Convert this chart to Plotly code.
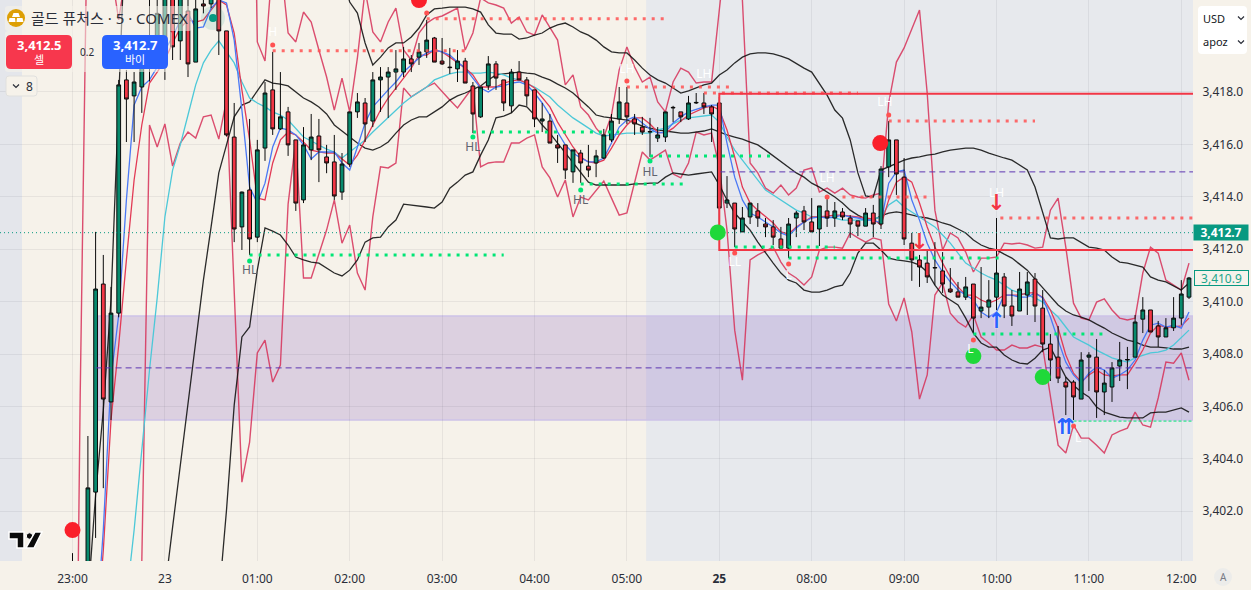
import plotly.graph_objects as go

# 5 minute bars, index 0 is the 23:00 bar
tick_bars = [0, 12, 24, 36, 48, 60, 72, 84, 96, 108, 120, 132, 144]
tick_labels = ['23:00', '23', '01:00', '02:00', '03:00', '04:00', '05:00', '<b>25</b>',
               '08:00', '09:00', '10:00', '11:00', '12:00']
price_ticks = [3402, 3404, 3406, 3408, 3410, 3412, 3414, 3416, 3418]

open_prices = [
    3399.5, 3396.0, 3398.0, 3402.73, 3410.67, 3406.17, 3409.56, 3418.46, 3417.85, 3418.19,
    3419.2, 3420.0, 3419.03, 3422.0, 3419.95, 3421.09, 3419.14, 3421.36, 3421.36, 3422.2,
    3420.33, 3416.28, 3412.85, 3414.26, 3412.46, 3415.86, 3418.08, 3416.59, 3417.24, 3416.17,
    3413.88, 3415.79, 3416.32, 3415.52, 3415.33, 3414.18, 3415.25, 3417.24, 3417.58, 3416.89,
    3418.46, 3418.57, 3418.76, 3418.76, 3419.26, 3419.33, 3419.53, 3420.06, 3419.18, 3418.95,
    3418.88, 3419.18, 3418.23, 3417.05, 3418.23, 3419.07, 3418.46, 3417.47, 3418.76, 3418.46,
    3418.08, 3416.89, 3416.89, 3415.98, 3415.98, 3414.95, 3415.67, 3415.17, 3415.29, 3415.48,
    3416.17, 3416.97, 3417.58, 3416.97, 3416.66, 3416.47, 3416.24, 3416.28, 3417.39, 3417.24,
    3416.97, 3417.58, 3417.58, 3417.43, 3417.58, 3413.76, 3413.76, 3412.66, 3413.23, 3413.46,
    3412.96, 3412.85, 3412.39, 3412.04, 3413.19, 3413.46, 3413.04, 3412.77, 3413.46, 3413.19,
    3413.42, 3413.19, 3413.08, 3412.88, 3413.38, 3412.96, 3415.14, 3416.17, 3414.75, 3412.23,
    3411.59, 3411.47, 3411.28, 3411.17, 3410.48, 3410.37, 3410.17, 3410.67, 3409.64, 3409.79,
    3410.17, 3410.94, 3409.83, 3409.64, 3410.25, 3410.86, 3409.75, 3408.38, 3407.88, 3406.93,
    3406.93, 3406.28, 3407.88, 3407.88, 3406.55, 3406.74, 3407.54, 3407.77, 3407.88, 3409.33,
    3409.68, 3409.07, 3408.65, 3409.00, 3409.37, 3410.17,
]
high_prices = [
    3400.4, 3399.8, 3404.87, 3412.66, 3411.78, 3410.56, 3418.46, 3418.84, 3418.76, 3419.6,
    3421.6, 3422.0, 3423.0, 3423.0, 3423.0, 3421.6, 3422.5, 3422.5, 3422.5, 3423.0,
    3420.33, 3417.58, 3414.2, 3416.97, 3416.17, 3418.38, 3419.53, 3418.76, 3417.43, 3416.17,
    3416.66, 3417.16, 3416.97, 3415.98, 3416.36, 3415.67, 3417.24, 3417.96, 3417.77, 3418.76,
    3418.95, 3418.95, 3419.60, 3419.72, 3419.41, 3419.87, 3420.75, 3420.1, 3420.06, 3419.68,
    3419.6, 3419.30, 3418.38, 3418.19, 3419.37, 3419.18, 3418.46, 3418.88, 3419.18, 3418.57,
    3418.08, 3417.58, 3417.16, 3416.36, 3415.98, 3415.79, 3415.79, 3415.98, 3415.79, 3416.59,
    3417.16, 3418.19, 3418.19, 3417.16, 3417.05, 3417.01, 3416.66, 3417.24, 3417.47, 3417.24,
    3417.85, 3417.96, 3417.96, 3417.5, 3417.81, 3414.79, 3413.76, 3413.61, 3413.76, 3413.76,
    3413.19, 3413.11, 3412.85, 3413.19, 3413.46, 3413.65, 3413.95, 3413.65, 3413.99, 3413.80,
    3413.57, 3413.3, 3413.08, 3413.57, 3413.69, 3415.17, 3416.89, 3416.17, 3415.48, 3412.62,
    3411.78, 3411.97, 3412.27, 3411.89, 3411.28, 3410.75, 3410.94, 3410.67, 3411.32, 3410.82,
    3413.19, 3411.09, 3410.44, 3411.13, 3411.13, 3411.09, 3410.44, 3408.76, 3409.07, 3407.12,
    3407.0, 3408.07, 3408.07, 3408.57, 3407.39, 3407.69, 3408.46, 3408.27, 3409.49, 3410.17,
    3409.68, 3409.26, 3409.37, 3410.17, 3410.82, 3410.94,
]
low_prices = [
    3398.5, 3395.0, 3397.0, 3400.98, 3402.88, 3405.48, 3409.40, 3416.09, 3416.09, 3417.2,
    3418.4, 3418.9, 3418.46, 3419.22, 3419.22, 3418.57, 3419.14, 3421.0, 3421.2, 3419.41,
    3416.3, 3412.27, 3411.97, 3411.78, 3412.27, 3415.37, 3416.36, 3416.55, 3415.56, 3413.46,
    3413.76, 3415.40, 3414.56, 3414.9, 3413.88, 3413.88, 3415.14, 3417.01, 3416.09, 3416.66,
    3417.24, 3417.01, 3418.08, 3418.57, 3418.76, 3419.03, 3419.30, 3419.14, 3419.03, 3418.69,
    3418.38, 3418.34, 3416.43, 3417.01, 3418.08, 3418.08, 3417.27, 3417.20, 3418.46, 3417.47,
    3416.66, 3416.47, 3416.05, 3415.29, 3414.68, 3414.53, 3414.53, 3414.75, 3414.75, 3415.44,
    3416.09, 3416.78, 3416.78, 3416.36, 3416.36, 3415.52, 3416.09, 3416.09, 3416.85, 3416.85,
    3416.93, 3417.54, 3417.16, 3416.09, 3412.85, 3413.57, 3412.08, 3412.66, 3412.96, 3412.85,
    3412.46, 3412.16, 3412.04, 3411.66, 3412.46, 3412.73, 3412.66, 3412.12, 3412.85, 3412.85,
    3413.11, 3412.43, 3412.50, 3412.88, 3412.46, 3412.77, 3414.75, 3414.07, 3412.16, 3410.79,
    3410.56, 3410.71, 3410.63, 3410.33, 3410.33, 3410.17, 3410.06, 3408.80, 3409.37, 3409.37,
    3409.68, 3409.37, 3409.07, 3409.64, 3409.49, 3409.22, 3408.07, 3406.97, 3406.89, 3405.67,
    3405.48, 3406.28, 3406.59, 3405.56, 3405.67, 3406.17, 3406.97, 3406.66, 3407.88, 3408.80,
    3408.84, 3408.27, 3408.65, 3408.88, 3409.11, 3410.10,
]
close_prices = [
    3400.0, 3399.5, 3402.89, 3410.48, 3406.28, 3409.56, 3418.27, 3417.73, 3418.38, 3419.15,
    3420.0, 3421.0, 3422.5, 3419.72, 3422.3, 3419.07, 3421.17, 3421.28, 3421.8, 3420.33,
    3416.36, 3412.77, 3414.18, 3412.39, 3415.79, 3417.96, 3416.59, 3417.05, 3415.98, 3413.76,
    3415.98, 3416.28, 3415.79, 3415.29, 3414.03, 3415.25, 3417.24, 3417.62, 3416.78, 3418.46,
    3418.57, 3418.76, 3418.88, 3419.26, 3419.07, 3419.53, 3419.98, 3419.14, 3419.07, 3418.93,
    3419.18, 3418.34, 3417.16, 3418.19, 3419.07, 3418.53, 3417.58, 3418.76, 3418.46, 3417.85,
    3416.97, 3416.97, 3416.05, 3415.86, 3415.02, 3415.79, 3415.29, 3415.02, 3415.56, 3416.36,
    3416.89, 3417.62, 3417.05, 3416.78, 3416.47, 3416.49, 3416.36, 3417.24, 3417.41, 3417.05,
    3417.58, 3417.6, 3417.43, 3417.16, 3413.57, 3413.88, 3412.77, 3413.19, 3413.76, 3413.19,
    3412.85, 3412.46, 3412.04, 3412.96, 3413.38, 3413.04, 3412.66, 3413.65, 3413.19, 3413.46,
    3413.23, 3412.96, 3412.88, 3413.38, 3412.96, 3415.06, 3416.17, 3414.87, 3412.39, 3411.59,
    3411.32, 3410.94, 3411.30, 3410.67, 3410.37, 3410.17, 3410.56, 3409.37, 3409.79, 3410.06,
    3411.09, 3409.83, 3409.45, 3410.48, 3410.75, 3409.83, 3408.38, 3407.77, 3407.08, 3406.74,
    3406.36, 3407.77, 3407.96, 3406.55, 3406.89, 3407.47, 3407.77, 3407.79, 3409.22, 3409.68,
    3408.84, 3408.65, 3409.00, 3409.37, 3410.29, 3410.9,
]

# indicator lines, each one starts at its own bar
envelope_top_start = 0
envelope_top = [
    3380.29, 3406.43, 3426.47, 3427.24, 3425.33, 3422.66, 3420.75, 3422.66, 3423.5, 3424.2,
    3424.6, 3425.1, 3425.4, 3425.9, 3426.1, 3426.3, 3426.0, 3426.2, 3426.4, 3426.5,
    3427.0, 3428.1, 3431.0, 3437.92, 3419.91, 3419.18, 3423.04, 3423.04, 3420.25, 3419.91,
    3421.05, 3420.67, 3419.60, 3418.57, 3417.31, 3418.53, 3417.24, 3419.30, 3421.89, 3420.29,
    3419.91, 3420.67, 3421.20, 3419.60, 3419.22, 3420.25, 3420.63, 3420.82, 3420.90, 3421.05,
    3421.20, 3419.60, 3420.25, 3421.59, 3421.40, 3421.32, 3421.20, 3420.63, 3420.86, 3420.29,
    3420.17, 3420.94, 3420.44, 3419.98, 3418.27, 3418.65, 3417.43, 3417.12, 3416.62, 3416.28,
    3417.12, 3418.84, 3419.72, 3418.95, 3418.38, 3418.57, 3417.62, 3417.24, 3418.38, 3418.91,
    3418.76, 3418.34, 3418.38, 3418.38, 3421.13, 3423.80, 3423.80, 3421.51, 3415.29, 3414.91,
    3414.33, 3414.14, 3414.45, 3414.07, 3414.33, 3415.02, 3415.10, 3414.18, 3414.33, 3414.14,
    3414.33, 3414.07, 3413.99, 3413.95, 3414.07, 3414.14, 3417.58, 3419.14, 3419.68, 3420.44,
    3421.13, 3417.96, 3413.49, 3411.97, 3412.62, 3412.43, 3411.89, 3411.13, 3411.66, 3411.66,
    3411.70, 3412.23, 3412.20, 3412.23, 3412.16, 3412.04, 3412.08, 3413.49, 3413.95, 3412.08,
    3409.94, 3409.37, 3409.30, 3409.98, 3410.10, 3409.68, 3409.37, 3409.30, 3409.37, 3411.09,
    3412.08, 3411.85, 3410.82, 3410.63, 3410.44, 3411.47,
]
envelope_low_start = 8
envelope_low = [
    3394.79, 3400.06,
    3416.74, 3415.90, 3416.78, 3415.17, 3416.05, 3416.47, 3416.24, 3417.05, 3417.12, 3416.20,
    3417.69, 3410.25, 3403.11, 3404.64, 3408.04, 3408.53, 3406.93, 3407.58, 3413.72, 3416.17,
    3410.90, 3410.90, 3411.85, 3412.73, 3413.88, 3412.23, 3412.92, 3411.09, 3410.44, 3413.23,
    3415.14, 3415.10, 3415.29, 3418.15, 3417.81, 3418.00, 3418.19, 3418.34, 3418.00, 3417.69,
    3417.39, 3417.81, 3418.19, 3415.14, 3415.29, 3415.33, 3415.33, 3416.05, 3416.05, 3416.24,
    3416.36, 3415.14, 3414.72, 3413.99, 3414.64, 3413.23, 3413.99, 3413.88, 3414.26, 3414.60,
    3413.95, 3413.30, 3413.38, 3414.53, 3415.71, 3415.40, 3415.59, 3415.78, 3414.87, 3414.72,
    3415.29, 3416.47, 3416.36, 3416.43, 3415.14, 3412.73, 3408.91, 3407.00, 3411.59, 3411.78,
    3411.93, 3412.08, 3411.51, 3411.09, 3410.90, 3410.63, 3410.94, 3411.97, 3412.08, 3412.08,
    3412.04, 3412.62, 3412.43, 3412.27, 3412.43, 3412.35, 3409.91, 3409.26, 3410.14, 3408.84,
    3406.28, 3407.20, 3410.25, 3410.71, 3409.56, 3409.22, 3409.03, 3409.49, 3408.65, 3408.42,
    3408.15, 3408.15, 3408.34, 3408.23, 3408.23, 3408.34, 3408.26, 3406.43, 3404.52, 3404.22,
    3405.29, 3404.79, 3404.79, 3404.52, 3404.22, 3404.91, 3405.06, 3405.17, 3405.78, 3405.29,
    3405.21, 3406.32, 3407.69, 3407.65, 3408.04, 3407.00,
]
band_upper_start = 2
band_upper = [
    3398.61, 3402.62, 3405.86, 3410.06, 3417.69, 3425.33,
    3426.2, 3427.0, 3427.6, 3428.1, 3428.5, 3428.9, 3429.2, 3429.4, 3429.5, 3429.4,
    3429.2, 3429.0, 3428.6, 3428.1, 3427.6, 3427.2, 3426.9, 3426.6, 3426.2, 3425.9,
    3425.6, 3425.3, 3425.0, 3424.8, 3424.5, 3424.1, 3423.5, 3422.6,
    3421.43, 3421.01, 3419.87, 3419.03, 3419.33, 3419.68, 3419.87, 3419.87, 3420.10, 3420.44,
    3420.94, 3421.17, 3421.20, 3421.24, 3421.24, 3421.24, 3421.17, 3421.05, 3420.56, 3420.25,
    3420.21, 3420.21, 3420.02, 3420.06, 3420.17, 3420.25, 3420.44, 3420.56, 3420.63, 3420.48,
    3420.29, 3420.17, 3419.98, 3419.72, 3419.53, 3419.49, 3419.49, 3419.22, 3418.91, 3418.65,
    3418.46, 3418.34, 3418.15, 3417.96, 3418.04, 3418.15, 3418.27, 3418.34, 3418.65, 3418.84,
    3419.11, 3419.33, 3419.45, 3419.49, 3419.49, 3419.45, 3419.37, 3419.26, 3419.07, 3418.91,
    3418.76, 3418.34, 3417.88, 3417.31, 3417.00, 3416.17, 3414.91, 3414.03, 3413.99, 3415.02,
    3415.14, 3415.29, 3415.40, 3415.48, 3415.52, 3415.59, 3415.63, 3415.71, 3415.78, 3415.82,
    3415.86, 3415.86, 3415.78, 3415.67, 3415.56, 3415.48, 3415.40, 3415.21, 3415.02, 3414.37,
    3413.38, 3412.43, 3412.39, 3412.43, 3412.43, 3412.27, 3412.08, 3412.04, 3411.97, 3411.70,
    3411.51, 3411.47, 3411.39, 3411.32, 3410.94, 3410.82, 3410.75, 3410.59, 3410.44, 3410.71,
]
band_mid_start = 9
band_mid = [
    3391.74,
    3394.22, 3396.70, 3398.99, 3401.39, 3403.76, 3406.13, 3408.53, 3410.82, 3412.85, 3414.91,
    3415.98, 3417.05, 3417.50, 3417.62, 3418.04, 3418.46, 3418.34, 3418.30, 3418.23, 3418.00,
    3417.77, 3417.62, 3417.43, 3417.16, 3416.74, 3416.51, 3416.28, 3416.05, 3415.86, 3415.78,
    3415.90, 3416.09, 3416.43, 3416.74, 3416.93, 3417.05, 3417.05, 3417.24, 3417.43, 3417.69,
    3417.85, 3417.96, 3418.08, 3418.23, 3418.46, 3418.65, 3418.69, 3418.72, 3418.76, 3418.72,
    3418.69, 3418.57, 3418.46, 3418.30, 3418.15, 3417.96, 3417.69, 3417.43, 3417.12, 3417.05,
    3417.01, 3416.97, 3416.93, 3416.82, 3416.70, 3416.62, 3416.55, 3416.51, 3416.47, 3416.43,
    3416.43, 3416.47, 3416.51, 3416.59, 3416.47, 3416.36, 3416.28, 3416.20, 3416.09, 3415.98,
    3415.78, 3415.56, 3415.33, 3415.10, 3414.91, 3414.75, 3414.52, 3414.37, 3414.18, 3413.99,
    3413.76, 3413.49, 3413.30, 3413.15, 3413.11, 3413.27, 3413.38, 3413.42, 3413.38, 3413.30,
    3413.23, 3413.19, 3413.11, 3413.00, 3412.92, 3412.77, 3412.62, 3412.35, 3412.16, 3412.04,
    3411.97, 3411.81, 3411.66, 3411.43, 3411.20, 3410.86, 3410.52, 3410.17, 3409.87, 3409.64,
    3409.49, 3409.41, 3409.30, 3409.14, 3408.99, 3408.80, 3408.65, 3408.53, 3408.46, 3408.34,
    3408.26, 3408.26, 3408.23, 3408.19, 3408.19, 3408.26,
]
band_lower_start = 18
band_lower = [
    3394.79, 3398.61,
    3402.04, 3406.05, 3408.65, 3409.03, 3411.20, 3412.81, 3412.69, 3412.54, 3412.16, 3411.70,
    3411.59, 3411.51, 3411.47, 3411.28, 3411.09, 3410.98, 3411.20, 3411.59, 3412.27, 3412.43,
    3412.46, 3412.85, 3413.11, 3413.72, 3413.69, 3413.65, 3413.61, 3413.57, 3413.80, 3414.33,
    3414.56, 3414.83, 3414.95, 3415.59, 3416.17, 3417.01, 3417.08, 3417.20, 3417.50, 3417.43,
    3417.12, 3416.74, 3416.43, 3416.05, 3415.67, 3415.29, 3414.91, 3414.56, 3414.45, 3414.45,
    3414.45, 3414.45, 3414.45, 3414.49, 3414.49, 3414.52, 3414.52, 3414.75, 3414.91, 3414.87,
    3414.83, 3414.87, 3414.91, 3414.95, 3414.45, 3413.88, 3413.38, 3413.04, 3412.73, 3412.27,
    3411.85, 3411.47, 3411.09, 3410.82, 3410.71, 3410.44, 3410.36, 3410.36, 3410.44, 3410.56,
    3410.63, 3411.09, 3411.85, 3412.23, 3412.23, 3411.97, 3411.66, 3411.59, 3411.55, 3411.51,
    3411.39, 3411.13, 3410.63, 3410.25, 3410.06, 3409.87, 3409.37, 3408.80, 3408.42, 3408.26,
    3408.26, 3407.96, 3407.77, 3407.65, 3407.62, 3407.84, 3408.15, 3408.26, 3407.69, 3407.12,
    3406.81, 3406.55, 3406.36, 3405.98, 3405.78, 3405.67, 3405.59, 3405.56, 3405.56, 3405.56,
    3405.75, 3405.78, 3405.78, 3405.86, 3405.94, 3405.78,
]
ema_blue_start = 2
ema_blue = [
    3394.03, 3397.08, 3401.28, 3407.08, 3409.49, 3413.88, 3417.50, 3418.19,
    3418.46, 3418.95, 3419.60, 3420.10, 3420.75, 3421.01, 3420.44, 3420.48, 3421.20, 3421.51,
    3421.40, 3419.98, 3417.31, 3414.37, 3413.76, 3414.52, 3415.90, 3416.62, 3416.55, 3416.36,
    3415.98, 3415.44, 3415.71, 3415.71, 3415.71, 3415.29, 3415.02, 3415.90, 3416.82, 3417.43,
    3417.77, 3418.08, 3418.38, 3418.76, 3419.03, 3419.30, 3419.49, 3419.60, 3419.53, 3419.41,
    3419.14, 3418.91, 3418.53, 3418.15, 3418.00, 3418.19, 3418.23, 3418.34, 3418.38, 3418.27,
    3417.96, 3417.58, 3417.12, 3416.47, 3415.98, 3415.67, 3415.48, 3415.33, 3415.33, 3415.48,
    3416.05, 3416.66, 3416.93, 3417.05, 3416.82, 3416.59, 3416.43, 3416.47, 3416.82, 3417.05,
    3417.24, 3417.35, 3417.43, 3417.50, 3417.50, 3416.05, 3414.75, 3413.88, 3413.38, 3413.23,
    3413.04, 3412.85, 3412.62, 3412.50, 3412.81, 3413.04, 3413.19, 3413.23, 3413.19, 3413.23,
    3413.30, 3413.23, 3413.19, 3413.11, 3413.11, 3413.00, 3414.52, 3414.95, 3415.02, 3413.88,
    3413.11, 3412.23, 3411.59, 3411.13, 3410.75, 3410.44, 3410.25, 3410.06, 3409.60, 3409.41,
    3409.60, 3410.25, 3410.25, 3410.17, 3410.17, 3410.33, 3410.14, 3409.41, 3408.53, 3407.69,
    3407.20, 3406.89, 3407.27, 3407.50, 3407.39, 3407.08, 3407.20, 3407.39, 3407.77, 3408.53,
    3409.10, 3409.18, 3409.03, 3409.10, 3408.99, 3409.60,
]
ema_red_start = 3
ema_red = [
    3396.70, 3400.50, 3405.48, 3408.34, 3411.59, 3414.64, 3416.74,
    3418.34, 3418.76, 3419.22, 3419.87, 3420.44, 3420.75, 3420.67, 3420.75, 3421.13, 3421.51,
    3421.32, 3420.25, 3418.08, 3416.17, 3413.95, 3413.88, 3415.29, 3416.17, 3416.47, 3416.36,
    3416.09, 3415.78, 3415.71, 3415.67, 3415.67, 3415.44, 3415.21, 3415.59, 3416.17, 3416.74,
    3417.31, 3417.77, 3418.15, 3418.53, 3418.91, 3419.41, 3419.41, 3419.60, 3419.53, 3419.33,
    3419.11, 3418.91, 3418.65, 3418.19, 3418.19, 3418.19, 3418.34, 3418.42, 3418.46, 3418.34,
    3418.15, 3417.81, 3417.43, 3416.85, 3416.36, 3415.90, 3415.52, 3415.33, 3415.29, 3415.40,
    3415.86, 3416.36, 3416.74, 3417.01, 3417.01, 3416.78, 3416.47, 3416.43, 3416.62, 3416.89,
    3417.12, 3417.24, 3417.39, 3417.47, 3417.31, 3416.55, 3415.52, 3414.37, 3413.76, 3413.49,
    3413.23, 3413.00, 3412.66, 3412.58, 3412.85, 3413.04, 3413.23, 3413.23, 3413.27, 3413.30,
    3413.30, 3413.27, 3413.23, 3413.19, 3413.15, 3412.92, 3413.88, 3414.56, 3414.75, 3414.56,
    3413.76, 3412.85, 3412.08, 3411.47, 3410.94, 3410.56, 3410.25, 3410.25, 3410.06, 3409.94,
    3410.06, 3410.25, 3410.25, 3410.25, 3410.33, 3410.33, 3410.17, 3409.68, 3408.99, 3407.96,
    3407.27, 3406.93, 3407.20, 3407.39, 3407.20, 3407.16, 3407.20, 3407.20, 3407.65, 3408.15,
    3408.80, 3409.10, 3409.03, 3409.03, 3409.07, 3409.37,
]
ema_cyan_start = 7
ema_cyan = [
    3398.61, 3401.28, 3404.33,
    3407.39, 3410.14, 3413.23, 3415.02, 3415.98, 3417.12, 3418.27, 3419.11, 3419.60, 3419.95,
    3419.53, 3419.11, 3418.38, 3417.77, 3417.58, 3417.43, 3417.24, 3417.12, 3416.93, 3416.62,
    3416.28, 3416.13, 3415.98, 3415.82, 3415.71, 3415.48, 3415.71, 3415.94, 3416.17, 3416.47,
    3416.74, 3417.01, 3417.31, 3417.58, 3417.81, 3418.00, 3418.19, 3418.46, 3418.57, 3418.69,
    3418.76, 3418.76, 3418.72, 3418.72, 3418.76, 3418.72, 3418.65, 3418.53, 3418.46, 3418.34,
    3418.19, 3418.00, 3417.81, 3417.50, 3417.24, 3417.01, 3416.82, 3416.62, 3416.43, 3416.32,
    3416.36, 3416.40, 3416.43, 3416.43, 3416.43, 3416.43, 3416.55, 3416.62, 3416.78, 3416.93,
    3417.01, 3417.05, 3417.08, 3417.12, 3416.85, 3416.28, 3415.78, 3415.40, 3415.02, 3414.64,
    3414.26, 3414.07, 3413.88, 3413.69, 3413.49, 3413.38, 3413.23, 3413.23, 3413.23, 3413.19,
    3413.11, 3413.11, 3413.11, 3413.11, 3413.15, 3413.23, 3413.69, 3413.88, 3413.61, 3413.42,
    3413.23, 3413.04, 3412.85, 3412.54, 3412.23, 3411.85, 3411.47, 3411.28, 3411.09, 3410.94,
    3410.82, 3410.63, 3410.44, 3410.33, 3410.25, 3410.14, 3409.98, 3409.68, 3409.41, 3409.03,
    3408.65, 3408.49, 3408.34, 3408.15, 3408.00, 3407.85, 3407.77, 3407.69, 3407.85, 3407.96,
    3408.04, 3408.07, 3408.15, 3408.34, 3408.61, 3408.91,
]

# horizontal levels as start bar, end bar, price
red_levels = [(46, 77, 3420.79), (26, 51, 3419.57), (72, 86, 3418.19), (82, 102, 3417.96),
              (106, 125, 3416.89), (100, 111, 3413.99), (120.5, 146, 3413.19)]
green_levels = [(23, 56, 3411.78), (52, 71, 3416.47), (75, 90.6, 3415.56), (66, 79.5, 3414.49),
                (86, 99, 3412.08), (93, 121, 3411.66), (117, 134, 3408.76)]
thin_green_level = (130, 146, 3405.44)
purple_levels = [(3, 146, 3407.47), (84, 146, 3414.95)]
box_top = 3417.93
box_bottom = 3411.97
box_start = 84
zone_top = 3409.45
zone_bottom = 3405.48
zone_start = 3.3
last_bid = 3412.63

# pivots and signals
big_red_x = [0, 45, 104.9]
big_red_y = [3401.28, 3421.51, 3416.05]
big_green_x = [83.8, 117, 126]
big_green_y = [3412.64, 3407.92, 3407.12]
pivot_red_x = [26, 46, 72, 86, 93, 98, 106, 117, 130]
pivot_red_y = [3419.79, 3421.01, 3418.42, 3411.85, 3411.43, 3413.99, 3417.12, 3408.53, 3405.25]
pivot_green_x = [23, 52, 66, 75]
pivot_green_y = [3411.55, 3416.28, 3414.26, 3415.37]
hl_x = [23, 52, 66, 75]
hl_y = [3411.17, 3415.86, 3413.84, 3414.91]
white_x = [26, 72, 82, 86, 93, 98, 105.5, 120, 116.6, 130.6]
white_y = [3420.25, 3418.84, 3418.65, 3411.47, 3410.98, 3414.68, 3417.58, 3414.12, 3408.15, 3404.75]
white_text = ['H', 'LH', 'LH', 'LL', 'L', 'LH', 'LH', 'LH', 'L', 'L']
arrow_red_x = [120, 110]
arrow_red_y = [3413.69, 3412.23]
arrow_blue_x = [120, 129]
arrow_blue_y = [3409.22, 3405.17]
arrow_blue_text = ['↑', '⇈']

W, H = 1251, 590
PLOT_W, PLOT_H = 1193, 561
X_RANGE = [-9.416, 145.52]
Y_RANGE = [3400.10, 3421.51]
FONT = 'Noto Sans, Noto Sans CJK KR, sans-serif'
CREAM = '#f6f2ea'
GRAY = '#e7e9ed'
CANDLE_GREEN = '#088a6d'
CANDLE_RED = '#f23645'


def px(x):
    return x / PLOT_W


def py(y):
    return 1 - y / PLOT_H


def rounded(x0, y0, x1, y1, r, fill, line='rgba(0,0,0,0)', lw=0):
    path = (f'M{px(x0 + r)},{py(y0)} L{px(x1 - r)},{py(y0)} Q{px(x1)},{py(y0)} {px(x1)},{py(y0 + r)} '
            f'L{px(x1)},{py(y1 - r)} Q{px(x1)},{py(y1)} {px(x1 - r)},{py(y1)} L{px(x0 + r)},{py(y1)} '
            f'Q{px(x0)},{py(y1)} {px(x0)},{py(y1 - r)} L{px(x0)},{py(y0 + r)} Q{px(x0)},{py(y0)} {px(x0 + r)},{py(y0)} Z')
    return dict(type='path', xref='paper', yref='paper', path=path, fillcolor=fill,
                line=dict(color=line, width=lw), layer='above')


def poly(points, fill='rgba(0,0,0,0)', line='rgba(0,0,0,0)', lw=0):
    path = ' '.join(('M' if i == 0 else 'L') + f'{px(a)},{py(b)}' for i, (a, b) in enumerate(points))
    if fill != 'rgba(0,0,0,0)':
        path += ' Z'
    return dict(type='path', xref='paper', yref='paper', path=path, fillcolor=fill,
                line=dict(color=line, width=lw), layer='above')


def circle(cx, cy, r, fill, line='rgba(0,0,0,0)', lw=0):
    return dict(type='circle', xref='paper', yref='paper', x0=px(cx - r), x1=px(cx + r),
                y0=py(cy + r), y1=py(cy - r), fillcolor=fill,
                line=dict(color=line, width=lw), layer='above')


def label(x, y, text, size=12, color='#2a2e39', anchor='center', **kw):
    return dict(xref='paper', yref='paper', x=px(x), y=py(y), text=text, showarrow=False,
                xanchor=anchor, yanchor='middle', font=dict(family=FONT, size=size, color=color), **kw)


def chevron(cx, cy, color='#2a2e39'):
    return poly([(cx - 3, cy - 1.5), (cx, cy + 1.5), (cx + 3, cy - 1.5)], line=color, lw=1.2)


fig = go.Figure()

for ys, start, color, width in [
    (envelope_top, envelope_top_start, 'rgba(214,48,88,0.85)', 1.4),
    (envelope_low, envelope_low_start, 'rgba(214,48,88,0.85)', 1.4),
    (band_upper, band_upper_start, 'rgba(20,20,20,0.9)', 1.3),
    (band_mid, band_mid_start, 'rgba(20,20,20,0.9)', 1.3),
    (band_lower, band_lower_start, 'rgba(20,20,20,0.9)', 1.3),
    (ema_cyan, ema_cyan_start, '#4cc8d8', 1.3),
    (ema_red, ema_red_start, '#e23a55', 1.3),
    (ema_blue, ema_blue_start, '#4a78f5', 1.3),
]:
    fig.add_trace(go.Scatter(x=list(range(start, start + len(ys))), y=ys, mode='lines',
                             line=dict(color=color, width=width), hoverinfo='skip'))

# candles go on the overlaid axis so they sit on top of the lines
fig.add_trace(go.Candlestick(
    x=list(range(len(open_prices))), open=open_prices, high=high_prices, low=low_prices, close=close_prices,
    increasing=dict(fillcolor=CANDLE_GREEN, line=dict(color='#0b0b0b', width=1)),
    decreasing=dict(fillcolor=CANDLE_RED, line=dict(color='#0b0b0b', width=1)),
    whiskerwidth=0, yaxis='y2', hoverinfo='skip',
))


def level_trace(level, color, width, dash):
    x0, x1, y = level
    return go.Scatter(x=[x0, x1], y=[y, y], mode='lines', yaxis='y2', hoverinfo='skip',
                      line=dict(color=color, width=width, dash=dash))


for lv in red_levels:
    fig.add_trace(level_trace(lv, 'rgba(255,82,82,0.85)', 3, '3px,6px'))
for lv in green_levels:
    fig.add_trace(level_trace(lv, '#00e676', 3, '3px,6px'))
fig.add_trace(level_trace(thin_green_level, '#00e676', 1, '3px,2px'))
for lv in purple_levels:
    fig.add_trace(level_trace(lv, '#5e35b1', 1, '6px,4px'))
fig.add_trace(level_trace((X_RANGE[0], X_RANGE[1], last_bid), '#089981', 1, '1px,3px'))

fig.add_trace(go.Scatter(x=[X_RANGE[1], box_start, box_start, X_RANGE[1]],
                         y=[box_top, box_top, box_bottom, box_bottom], mode='lines', yaxis='y2',
                         line=dict(color=CANDLE_RED, width=2), hoverinfo='skip'))

fig.add_trace(go.Scatter(x=pivot_red_x, y=pivot_red_y, mode='markers', yaxis='y2', hoverinfo='skip',
                         marker=dict(color='#ff5252', size=5)))
fig.add_trace(go.Scatter(x=pivot_green_x, y=pivot_green_y, mode='markers', yaxis='y2', hoverinfo='skip',
                         marker=dict(color='#00e676', size=5)))
fig.add_trace(go.Scatter(x=big_red_x, y=big_red_y, mode='markers', yaxis='y2', hoverinfo='skip',
                         marker=dict(color='#fa1f2a', size=16)))
fig.add_trace(go.Scatter(x=big_green_x, y=big_green_y, mode='markers', yaxis='y2', hoverinfo='skip',
                         marker=dict(color='#1fd83a', size=16)))
fig.add_trace(go.Scatter(x=hl_x, y=hl_y, mode='text', text=['HL'] * len(hl_x), yaxis='y2', hoverinfo='skip',
                         textfont=dict(family=FONT, size=12, color='#60636e')))
fig.add_trace(go.Scatter(x=white_x, y=white_y, mode='text', text=white_text, yaxis='y2', hoverinfo='skip',
                         textfont=dict(family=FONT, size=12, color='#ffffff')))
fig.add_trace(go.Scatter(x=arrow_red_x, y=arrow_red_y, mode='text', text=['↓'] * len(arrow_red_x), yaxis='y2',
                         hoverinfo='skip',
                         textfont=dict(family='DejaVu Sans', size=22, weight='bold', color=CANDLE_RED,
                                       shadow='0 0 2px #ffffff')))
fig.add_trace(go.Scatter(x=arrow_blue_x, y=arrow_blue_y, mode='text', text=arrow_blue_text, yaxis='y2',
                         hoverinfo='skip',
                         textfont=dict(family='DejaVu Sans', size=22, weight='bold', color='#2962ff',
                                       shadow='0 0 2px #ffffff')))

session_left = -6.56
session_split = 74.5
shapes = [
    dict(type='rect', xref='x', yref='paper', x0=X_RANGE[0], x1=session_left, y0=0, y1=1,
         fillcolor='#e4e6eb', line_width=0, layer='below'),
    dict(type='rect', xref='x', yref='paper', x0=session_split, x1=X_RANGE[1], y0=0, y1=1,
         fillcolor=GRAY, line_width=0, layer='below'),
    dict(type='rect', xref='x', yref='y', x0=zone_start, x1=X_RANGE[1], y0=zone_bottom, y1=zone_top,
         fillcolor='rgba(103,58,183,0.18)', line=dict(color='#cdc2e8', width=1.5), layer='below'),
    # chart header and order buttons
    rounded(5, 6, 192, 31, 3, 'rgba(246,242,234,0.55)'),
    rounded(5, 31, 172, 72, 3, 'rgba(246,242,234,0.55)'),
    circle(213, 18, 12, 'rgba(8,153,129,0.12)'),
    circle(213, 18, 4, '#089981'),
    circle(16, 18, 9, '#dd9f05'),
    poly([(13.5, 13), (18.5, 13), (20, 17), (12, 17)], fill='#ffffff'),
    poly([(9.5, 18), (15, 18), (15.5, 22), (8.5, 22)], fill='#ffffff'),
    poly([(17, 18), (22.5, 18), (23.5, 22), (16.5, 22)], fill='#ffffff'),
    rounded(6, 35, 72, 69, 5, '#f7374d'),
    rounded(102, 35, 168, 69, 5, '#2962ff'),
    rounded(6, 76, 37, 96, 3, CREAM, '#e0e0de', 1),
    chevron(16, 86),
    rounded(1198, 6, 1247, 54, 4, '#ffffff'),
    chevron(1241, 18),
    chevron(1241, 42),
    circle(1223, 577, 9, '#ececea'),
    # logo
    poly([(9, 532), (24, 532), (24, 548), (17, 548), (17, 539), (9, 539)], fill='#0b0b0b', line='#ffffff', lw=1.5),
    circle(29.5, 536, 3.2, '#0b0b0b', '#ffffff', 1),
    poly([(35, 532), (42, 532), (34, 548), (26, 548)], fill='#0b0b0b', line='#ffffff', lw=1.5),
]

annotations = [
    label(29, 18, '골드 퓨처스 · 5 · COMEX', size=15, anchor='left'),
    label(39, 45, '<b>3,412.5</b>', size=13, color='#ffffff'),
    label(39, 59, '셀', size=11, color='#ffffff'),
    label(87, 52, '0.2', size=10),
    label(135, 45, '<b>3,412.7</b>', size=13, color='#ffffff'),
    label(135, 59, '바이', size=11, color='#ffffff'),
    label(29, 86, '8', size=12),
    label(1201, 18, 'USD', size=11, color='#131722', anchor='left'),
    label(1201, 42, 'apoz', size=11, color='#131722', anchor='left'),
    label(1223, 577, 'A', size=10, color='#787b86'),
    dict(xref='paper', yref='y', x=px(1221), y=last_bid, text='<b>3,412.7</b>', showarrow=False,
         xanchor='center', width=54, height=15, borderpad=0, bgcolor='#089981',
         font=dict(family=FONT, size=12, color='#ffffff')),
    dict(xref='paper', yref='y', x=px(1221), y=3410.9, text='3,410.9', showarrow=False,
         xanchor='center', width=53, height=14, borderpad=0, bgcolor=CREAM, bordercolor='#089981', borderwidth=1,
         font=dict(family=FONT, size=12, color='#1ba58a')),
]

fig.update_layout(
    width=W, height=H, margin=dict(l=0, r=W - PLOT_W, t=0, b=H - PLOT_H),
    paper_bgcolor=CREAM, plot_bgcolor=CREAM, showlegend=False,
    font=dict(family=FONT, size=12, color='#2a2e39'),
    shapes=shapes, annotations=annotations, hovermode=False,
    xaxis=dict(range=X_RANGE, tickmode='array', tickvals=tick_bars, ticktext=tick_labels,
               rangeslider=dict(visible=False), showgrid=True, gridcolor='rgba(42,46,57,0.07)',
               zeroline=False, showline=False, ticks='outside', ticklen=7, tickcolor='rgba(0,0,0,0)',
               tickfont=dict(family=FONT, size=12, color='#2a2e39')),
    yaxis=dict(range=Y_RANGE, side='right', tickmode='array', tickvals=price_ticks, tickformat=',.1f',
               showgrid=True, gridcolor='rgba(42,46,57,0.07)', zeroline=False, showline=False,
               ticks='outside', ticklen=6, tickcolor='rgba(0,0,0,0)',
               tickfont=dict(family=FONT, size=12, color='#2a2e39')),
    yaxis2=dict(range=Y_RANGE, overlaying='y', side='right', showgrid=False, zeroline=False,
                showticklabels=False, ticks=''),
)

fig.write_html("out.html", config={'displayModeBar': False},
               post_script="document.body.style.margin='0';document.body.style.overflow='hidden';")
